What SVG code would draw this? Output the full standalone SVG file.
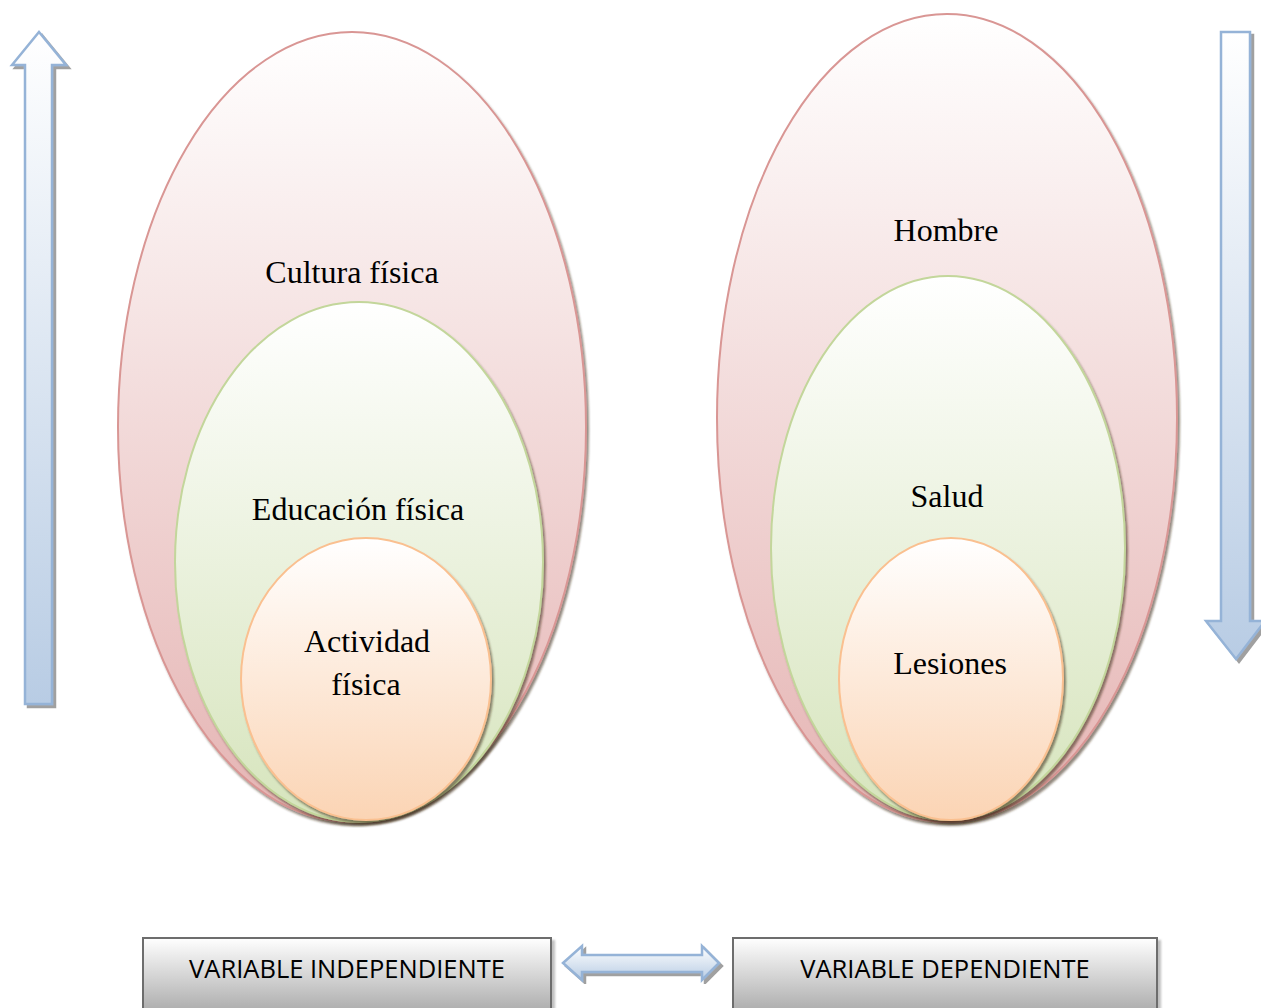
<svg xmlns="http://www.w3.org/2000/svg" width="1261" height="1008" viewBox="0 0 1261 1008">
  <style>
    .lbl { font-family: "Liberation Serif", "Times New Roman", serif; font-size: 32px; fill: #000; text-anchor: middle; }
    .box-lbl { font-family: "Open Sans", "Liberation Sans", Arial, sans-serif; font-size: 25.5px; fill: #000; text-anchor: middle; }
    .outer { fill: url(#gPink); stroke: #d99694; stroke-width: 2; filter: url(#shadow); }
    .mid { fill: url(#gGreen); stroke: #c3d69b; stroke-width: 2; filter: url(#shadow); }
    .inner { fill: url(#gOrange); stroke: #fac090; stroke-width: 2; filter: url(#shadow); }
    .arrow { stroke: #95b3d7; stroke-width: 2.5; stroke-linejoin: miter; filter: url(#shadowArrow); }
    .box { fill: url(#gGray); stroke: #6d6d6d; stroke-width: 2; filter: url(#shadowBox); }
  </style>
  <defs>
    <linearGradient id="gPink" x1="0" y1="0" x2="0" y2="1">
      <stop offset="0" stop-color="#ffffff"/>
      <stop offset="1" stop-color="#e5b4b3"/>
    </linearGradient>
    <linearGradient id="gGreen" x1="0" y1="0" x2="0" y2="1">
      <stop offset="0" stop-color="#ffffff"/>
      <stop offset="1" stop-color="#d6e4bc"/>
    </linearGradient>
    <linearGradient id="gOrange" x1="0" y1="0" x2="0" y2="1">
      <stop offset="0" stop-color="#ffffff"/>
      <stop offset="1" stop-color="#fbd4b4"/>
    </linearGradient>
    <linearGradient id="gBlue" x1="0" y1="0" x2="0" y2="1">
      <stop offset="0" stop-color="#ffffff"/>
      <stop offset="1" stop-color="#b8cce4"/>
    </linearGradient>
    <linearGradient id="gGray" x1="0" y1="0" x2="0" y2="1">
      <stop offset="0" stop-color="#ffffff"/>
      <stop offset="1" stop-color="#a5a5a5"/>
    </linearGradient>
    <filter id="shadow" x="-10%" y="-10%" width="120%" height="120%">
      <feDropShadow dx="2" dy="3" stdDeviation="1.2" flood-color="#3a2a10" flood-opacity="0.55"/>
    </filter>
    <filter id="shadowArrow" x="-20%" y="-10%" width="140%" height="120%">
      <feDropShadow dx="3" dy="3" stdDeviation="0.6" flood-color="#606060" flood-opacity="0.6"/>
    </filter>
    <filter id="shadowBox" x="-5%" y="-20%" width="110%" height="140%">
      <feDropShadow dx="3" dy="3" stdDeviation="1" flood-color="#808080" flood-opacity="0.5"/>
    </filter>
  </defs>

  <!-- vertical trend arrows -->
  <g id="arrow-up">
    <path class="arrow" fill="url(#gBlue)" d="M39 32 L66 65 L52 65 L52 704 L25 704 L25 65 L12 65 Z"/>
  </g>
  <g id="arrow-down">
    <path class="arrow" fill="url(#gBlue)" d="M1221 32 L1250 32 L1250 621 L1265 621 L1236 659 L1206 621 L1221 621 Z"/>
  </g>

  <!-- left set: Cultura física ⊃ Educación física ⊃ Actividad física -->
  <g id="cultura-fisica">
    <ellipse class="outer" cx="352" cy="427" rx="234" ry="395"/>
    <text class="lbl" x="352" y="283">Cultura física</text>
  </g>
  <g id="educacion-fisica">
    <ellipse class="mid" cx="359" cy="562" rx="184" ry="260"/>
    <text class="lbl" x="358" y="520">Educación física</text>
  </g>
  <g id="actividad-fisica">
    <ellipse class="inner" cx="366" cy="679" rx="125" ry="141"/>
    <text class="lbl" x="367" y="652">Actividad</text>
    <text class="lbl" x="366" y="695">física</text>
  </g>

  <!-- right set: Hombre ⊃ Salud ⊃ Lesiones -->
  <g id="hombre">
    <ellipse class="outer" cx="947" cy="418" rx="230" ry="404"/>
    <text class="lbl" x="946" y="241">Hombre</text>
  </g>
  <g id="salud">
    <ellipse class="mid" cx="948" cy="548" rx="177" ry="272"/>
    <text class="lbl" x="947" y="507">Salud</text>
  </g>
  <g id="lesiones">
    <ellipse class="inner" cx="951" cy="679" rx="112" ry="141"/>
    <text class="lbl" x="950" y="674">Lesiones</text>
  </g>

  <!-- variable boxes -->
  <g id="variable-independiente">
    <rect class="box" x="143" y="938" width="408" height="80"/>
    <text class="box-lbl" x="347" y="978">VARIABLE INDEPENDIENTE</text>
  </g>
  <g id="variable-dependiente">
    <rect class="box" x="733" y="938" width="424" height="80"/>
    <text class="box-lbl" x="945" y="978">VARIABLE DEPENDIENTE</text>
  </g>

  <!-- connector between the two variables -->
  <g id="connectors">
    <path class="arrow" fill="url(#gBlue)" d="M563 963 L582 946 L582 955 L702 955 L702 946 L719 963 L702 980 L702 972 L582 972 L582 980 Z"/>
  </g>
</svg>
